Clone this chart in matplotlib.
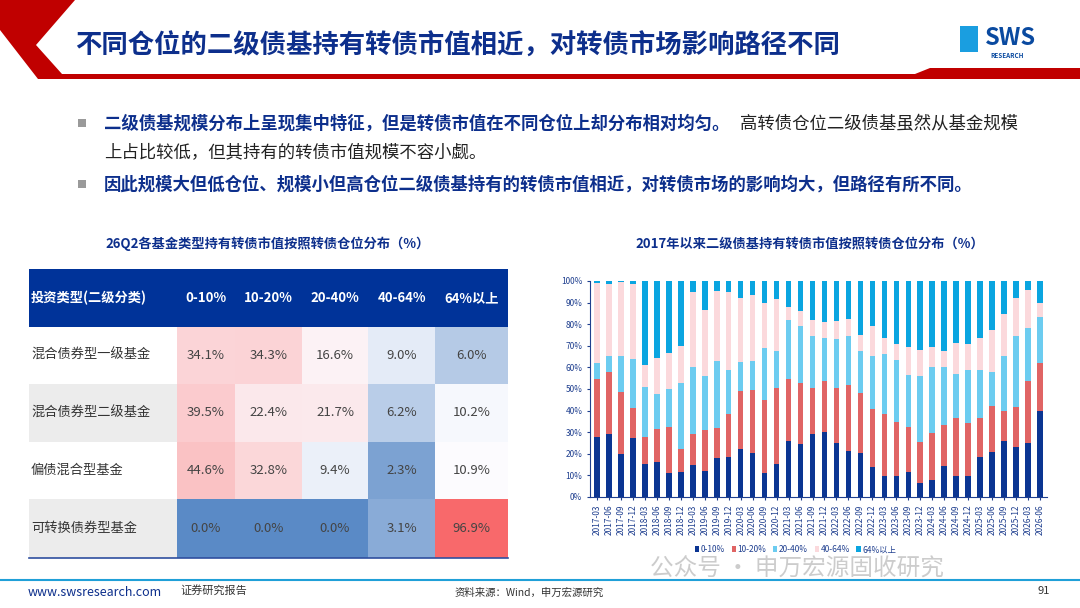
import numpy as np
import matplotlib.pyplot as plt
from matplotlib.colors import LinearSegmentedColormap, TwoSlopeNorm
from matplotlib.patches import Polygon, Rectangle

plt.rcParams['font.family'] = ['Noto Sans CJK SC', 'DejaVu Sans']

# ---- table data ----
fund_types = ['混合债券型一级基金', '混合债券型二级基金', '偏债混合型基金', '可转换债券型基金']
buckets = ['0-10%', '10-20%', '20-40%', '40-64%', '64%以上']
table_vals = np.array([
    [34.1, 34.3, 16.6, 9.0, 6.0],
    [39.5, 22.4, 21.7, 6.2, 10.2],
    [44.6, 32.8, 9.4, 2.3, 10.9],
    [0.0, 0.0, 0.0, 3.1, 96.9],
])

# ---- stacked bar data (cumulative tops, %) ----
quarters = ['2017-03', '2017-06', '2017-09', '2017-12', '2018-03', '2018-06', '2018-09', '2018-12',
            '2019-03', '2019-06', '2019-09', '2019-12', '2020-03', '2020-06', '2020-09', '2020-12',
            '2021-03', '2021-06', '2021-09', '2021-12', '2022-03', '2022-06', '2022-09', '2022-12',
            '2023-03', '2023-06', '2023-09', '2023-12', '2024-03', '2024-06', '2024-09', '2024-12',
            '2025-03', '2025-06', '2025-09', '2025-12', '2026-03', '2026-06']
cum_0_10 = [28, 29, 20, 27.5, 15.5, 16, 11, 11.5, 15, 12, 18, 18.5, 22, 20.5, 11, 15.5,
            26, 24.5, 29, 30, 25, 21.5, 20.4, 13.8, 9.5, 9.5, 11.5, 6.5, 7.7, 14.3, 9.5, 9.5,
            18.4, 20.9, 25.8, 23.2, 25.2, 39.6]
cum_10_20 = [54.5, 58, 48.5, 41, 28, 31.5, 32.5, 22, 29, 31, 32, 38.5, 49, 49.5, 45, 50.5,
             54.5, 53, 50.5, 53.5, 50.4, 52, 48, 40.7, 38.4, 34.9, 32.3, 25.5, 29.8, 33.3, 36.4, 34.4,
             36.4, 42, 40, 41.5, 53.5, 62]
cum_20_40 = [62, 65.5, 65.5, 64, 51, 47.5, 50, 53, 60, 56, 63, 59, 62.5, 63, 69, 67.5,
             82, 79, 74.5, 73.5, 73, 74.5, 67.6, 65.3, 66, 63.3, 56.5, 56, 60, 60.2, 57, 59,
             59, 58, 65.3, 74.7, 78.3, 83.4]
cum_40_64 = [99, 98.5, 99.5, 98.5, 61, 64.5, 66.5, 70, 95, 86.5, 95.5, 95, 92, 93.5, 90, 91.5,
             88, 86, 82, 81, 81.4, 82.6, 74.8, 79, 73.6, 70.7, 69.3, 68.2, 69.3, 67.4, 71.3, 71,
             73.6, 77.3, 84.6, 92.3, 95.7, 89.7]
cum_all = [100] * len(quarters)

bar_colors = ['#0b3592', '#e06464', '#6cccf0', '#fbd9dc', '#0aa5e0']

W, H = 1080, 608
fig = plt.figure(figsize=(W / 100, H / 100), dpi=100)
bg = fig.add_axes([0, 0, 1, 1])
bg.set_xlim(0, W)
bg.set_ylim(H, 0)
bg.axis('off')

# header
bg.add_patch(Polygon([(0, 0), (75, 0), (36, 45), (62, 74), (915, 74), (930, 68), (1080, 68),
                      (1080, 79), (38, 79), (0, 30)], color='#c00000', lw=0))
bg.text(75, 46, '不同仓位的二级债基持有转债市值相近，对转债市场影响路径不同',
        fontsize=19, fontweight='bold', color='#0d2f8c', va='center')
bg.text(985, 38, 'SWS', fontsize=17, fontweight='bold', color='#0a4aa0', va='center')
bg.text(990, 55, 'RESEARCH', fontsize=4.5, fontweight='bold', color='#0a4aa0', va='center')
bg.add_patch(Rectangle((960, 26), 18, 26, color='#1a9ee0', lw=0))

# bullets
bg.add_patch(Rectangle((78, 119), 8, 8, color='#9a9a9a', lw=0))
bg.add_patch(Rectangle((78, 180), 8, 8, color='#9a9a9a', lw=0))
bg.text(104, 124, '二级债基规模分布上呈现集中特征，但是转债市值在不同仓位上却分布相对均匀。',
        fontsize=12.5, fontweight='bold', color='#0d2f8c', va='center')
bg.text(740, 124, '高转债仓位二级债基虽然从基金规模', fontsize=12.5, color='#222222', va='center')
bg.text(104, 152, '上占比较低，但其持有的转债市值规模不容小觑。', fontsize=12.5, color='#222222', va='center')
bg.text(104, 185, '因此规模大但低仓位、规模小但高仓位二级债基持有的转债市值相近，对转债市场的影响均大，但路径有所不同。',
        fontsize=12.5, fontweight='bold', color='#0d2f8c', va='center')

# table
bg.text(268, 244, '26Q2各基金类型持有转债市值按照转债仓位分布（%）', fontsize=9.5,
        fontweight='bold', color='#0d2f8c', ha='center', va='center')
col_x = [29, 177, 235, 302, 368, 435, 508]
row_y = [269, 327, 384, 442, 499, 558]
bg.add_patch(Rectangle((col_x[0], row_y[0]), col_x[-1] - col_x[0], row_y[1] - row_y[0],
                       color='#003399', lw=0))
bg.text(col_x[0] + 2, 298, '投资类型(二级分类)', fontsize=9.5, fontweight='bold', color='white', va='center')
for j, b in enumerate(buckets):
    bg.text((col_x[j + 1] + col_x[j + 2]) / 2, 298, b, fontsize=9.5, fontweight='bold',
            color='white', ha='center', va='center')
cmap = LinearSegmentedColormap.from_list('heat', ['#5a8ac6', '#fcfcff', '#f8696b'])
norm = TwoSlopeNorm(vmin=0, vcenter=10.55, vmax=96.9)
for i, name in enumerate(fund_types):
    y0, y1 = row_y[i + 1], row_y[i + 2]
    bg.add_patch(Rectangle((col_x[0], y0), col_x[1] - col_x[0], y1 - y0,
                           color='#ececec' if i % 2 else 'white', lw=0))
    bg.text(col_x[0] + 2, (y0 + y1) / 2, name, fontsize=9.5, color='#333333', va='center')
    for j in range(5):
        v = table_vals[i, j]
        bg.add_patch(Rectangle((col_x[j + 1], y0), col_x[j + 2] - col_x[j + 1], y1 - y0,
                               color=cmap(norm(v)), lw=0))
        bg.text((col_x[j + 1] + col_x[j + 2]) / 2, (y0 + y1) / 2, f'{v:.1f}%', fontsize=9.5,
                color='#444444', ha='center', va='center')
bg.plot([col_x[0], col_x[-1]], [row_y[-1], row_y[-1]], color='#2f4f9f', lw=1.2)

# watermark
bg.text(650, 569, '公众号 · 申万宏源固收研究', fontsize=17, color='#9a9a9a', alpha=0.5, va='center')

# chart
bg.text(810, 244, '2017年以来二级债基持有转债市值按照转债仓位分布（%）', fontsize=9.5,
        fontweight='bold', color='#0d2f8c', ha='center', va='center')
ax = fig.add_axes([590 / W, 1 - 497 / H, (1047 - 590) / W, (497 - 281) / H])
ax.patch.set_alpha(0)
x = np.arange(len(quarters))
cums = [cum_0_10, cum_10_20, cum_20_40, cum_40_64, cum_all]
prev = np.zeros(len(quarters))
for k, c in enumerate(cums):
    c = np.array(c, dtype=float)
    ax.bar(x, c - prev, bottom=prev, width=0.45, color=bar_colors[k], label=buckets[k])
    prev = c
ax.set_xlim(-0.6, len(quarters) - 0.4)
ax.set_ylim(0, 100)
ax.set_yticks(np.arange(0, 101, 10))
ax.set_yticklabels([f'{t}%' for t in range(0, 101, 10)])
ax.set_xticks(x)
ax.set_xticklabels(quarters, rotation=90)
ax.tick_params(labelsize=6, colors='#1f3f8f', length=2)
for s in ['top', 'right']:
    ax.spines[s].set_visible(False)
ax.spines['left'].set_color('#1f3f8f')
ax.spines['bottom'].set_color('#1f3f8f')
ax.legend(loc='upper center', bbox_to_anchor=(0.45, -0.2), ncol=5, fontsize=6, frameon=False,
          handlelength=0.5, handletextpad=0.2, columnspacing=0.8, labelcolor='#1f3f8f',
          borderpad=0.1)

# footer
bg.plot([0, W], [580, 580], color='#20a0d8', lw=1.5)
bg.text(28, 592, 'www.swsresearch.com', fontsize=9, color='#0d2f8c', va='center')
bg.text(180, 590, '证券研究报告', fontsize=8, color='#333333', va='center')
bg.text(455, 593, '资料来源：Wind，申万宏源研究', fontsize=7.5, color='#333333', va='center')
bg.text(1050, 591, '91', fontsize=8, color='#333333', ha='right', va='center')

fig.savefig('out.png', dpi=100)
